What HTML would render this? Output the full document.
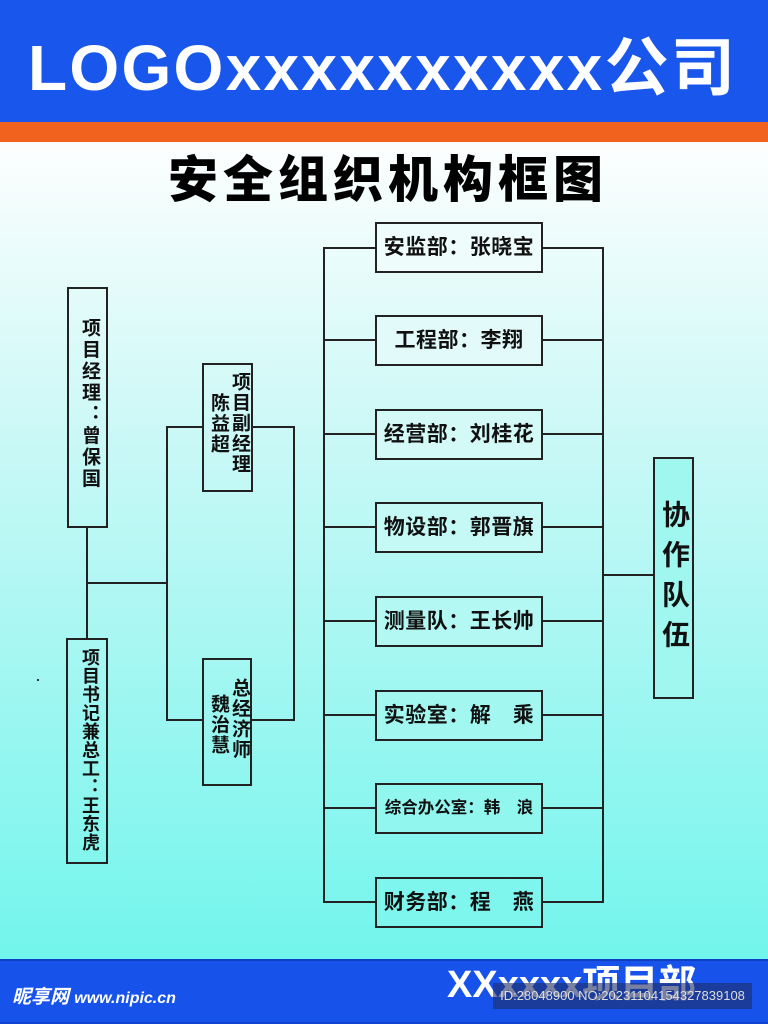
<!DOCTYPE html>
<html><head><meta charset="utf-8"><style>
*{margin:0;padding:0;box-sizing:border-box}
body{width:768px;height:1024px;position:relative;overflow:hidden;font-family:"Liberation Sans","Noto Sans CJK SC",sans-serif;background:linear-gradient(#fdfefe 142px,#c8f8f6 450px,#72f5ec 958px)}
.hdr{position:absolute;left:0;top:0;width:768px;height:122px;background:#1856ec}
.or{position:absolute;left:0;top:122px;width:768px;height:20px;background:#f0621e}
.logo{position:absolute;left:28px;top:28px;color:#fff;font-weight:bold;font-size:64px;line-height:80px;letter-spacing:2.3px;white-space:nowrap}
.title{position:absolute;left:168px;top:148px;font-weight:900;font-size:50px;line-height:64px;letter-spacing:5px;color:#000;white-space:nowrap}
.b{position:absolute;border:2px solid #222;font-weight:bold;color:#111}
.r{left:375px;width:168px;height:51px;font-size:21px;line-height:47px;text-align:center;white-space:nowrap;letter-spacing:0.5px}
.l{position:absolute;background:#222}
.vt{position:absolute;writing-mode:vertical-rl;font-weight:bold;font-size:19px;letter-spacing:2.5px;color:#111;white-space:nowrap}
.ftr{position:absolute;left:0;top:959px;width:768px;height:65px;background:#1753ea;border-top:2px solid #0f3fbf;border-bottom:2px solid #1043d0}
</style></head><body>
<div class="hdr"></div><div class="or"></div>
<div class="logo">LOGOxxxxxxxxxx公司</div>
<div class="title">安全组织机构框图</div>

<!-- left -->
<div class="b" style="left:67px;top:287px;width:41px;height:241px"></div>
<div class="vt" style="left:76px;top:318px">项目经理：曾保国</div>
<div class="b" style="left:66px;top:638px;width:42px;height:226px"></div>
<div class="vt" style="left:77px;top:648px;font-size:18px;letter-spacing:0.5px">项目书记兼总工：王东虎</div>
<div class="l" style="left:86px;top:527px;width:2px;height:112px"></div>
<div class="l" style="left:86px;top:582px;width:81px;height:2px"></div>
<div class="l" style="left:166px;top:426px;width:2px;height:295px"></div>
<div class="l" style="left:166px;top:426px;width:36px;height:2px"></div>
<div class="l" style="left:166px;top:719px;width:36px;height:2px"></div>
<div class="l" style="left:252px;top:426px;width:43px;height:2px"></div>
<div class="l" style="left:252px;top:719px;width:43px;height:2px"></div>
<div class="l" style="left:293px;top:426px;width:2px;height:295px"></div>
<div class="b" style="left:202px;top:363px;width:51px;height:129px"></div>
<div class="vt" style="left:226px;top:372px;letter-spacing:1.5px">项目副经理</div>
<div class="vt" style="left:205px;top:393px;letter-spacing:1.5px">陈益超</div>
<div class="b" style="left:202px;top:658px;width:50px;height:128px"></div>
<div class="vt" style="left:226px;top:678px;letter-spacing:1.5px">总经济师</div>
<div class="vt" style="left:205px;top:694px;letter-spacing:1.5px">魏治慧</div>
<div style="position:absolute;left:37px;top:679px;width:2px;height:2px;background:#333"></div>

<!-- right column -->
<div class="l" style="left:323px;top:247px;width:2px;height:656px"></div>
<div class="l" style="left:602px;top:247px;width:2px;height:656px"></div>
<div class="l" style="left:603px;top:574px;width:51px;height:2px"></div>
<div class="l" style="left:323px;top:247px;width:281px;height:2px"></div>
<div class="l" style="left:323px;top:339px;width:281px;height:2px"></div>
<div class="l" style="left:323px;top:433px;width:281px;height:2px"></div>
<div class="l" style="left:323px;top:526px;width:281px;height:2px"></div>
<div class="l" style="left:323px;top:620px;width:281px;height:2px"></div>
<div class="l" style="left:323px;top:714px;width:281px;height:2px"></div>
<div class="l" style="left:323px;top:807px;width:281px;height:2px"></div>
<div class="l" style="left:323px;top:901px;width:281px;height:2px"></div>
<div class="b r" style="top:222px;background:#effcfc">安监部：张晓宝</div>
<div class="b r" style="top:315px;background:#e2fbfa">工程部：李翔</div>
<div class="b r" style="top:409px;background:#d4faf8">经营部：刘桂花</div>
<div class="b r" style="top:502px;background:#c5f9f6">物设部：郭晋旗</div>
<div class="b r" style="top:596px;background:#b4f8f3">测量队：王长帅</div>
<div class="b r" style="top:690px;background:#a2f7f1">实验室：解　乘</div>
<div class="b r" style="top:783px;background:#90f6ee;font-size:16.5px;letter-spacing:0">综合办公室：韩　浪</div>
<div class="b r" style="top:877px;background:#7ef6ed">财务部：程　燕</div>
<div class="b" style="left:653px;top:457px;width:41px;height:242px;background:#9ff7f0"></div>
<div class="vt" style="left:659px;top:500px;width:30px;font-size:28px;line-height:30px;letter-spacing:12px">协作队伍</div>

<div class="ftr"></div>
<div style="position:absolute;left:12px;top:982px;color:#fff;font-weight:bold;font-style:italic;font-size:19px;white-space:nowrap">昵享网 <span style="font-size:16px">www.nipic.cn</span></div>
<div style="position:absolute;left:447px;top:960px;color:#fff;font-weight:bold;font-size:38px;line-height:50px;white-space:nowrap">XXxxxx项目部</div>
<div style="position:absolute;left:493px;top:983px;width:259px;height:26px;background:rgba(30,45,100,.6);color:#ddd;font-size:13px;line-height:26px;text-align:center;white-space:nowrap">ID:28048900 NO:20231104154327839108</div>
</body></html>
